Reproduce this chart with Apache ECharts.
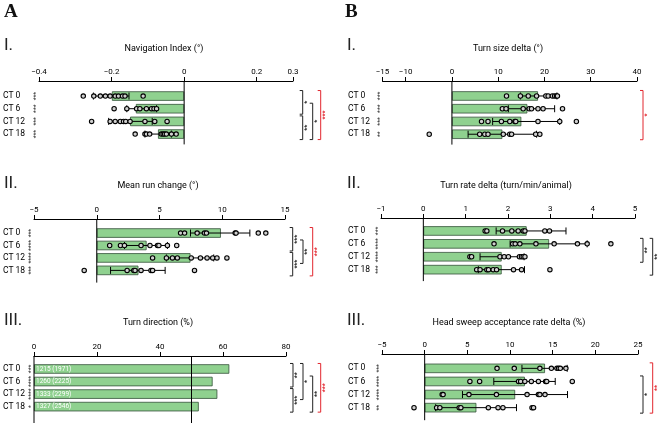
<!DOCTYPE html>
<html><head><meta charset="utf-8">
<script src="https://cdn.jsdelivr.net/npm/echarts@6/dist/echarts.min.js"></script>
<style>html,body{margin:0;padding:0;background:#fff}#c{width:659px;height:423px}</style>
</head><body><div id="c"></div>
<script>
const categories = ['CT 0','CT 6','CT 12','CT 18'];

// ---- A-I Navigation Index (°)
const navTicks = [-0.4,-0.2,0,0.2,0.3];
const navMeans = [-0.199,-0.133,-0.149,-0.072];
const navErr = [[-0.250,-0.152],[-0.158,-0.076],[-0.208,-0.088],[-0.108,-0.035]];
const navPoints = [
  [-0.278,-0.249,-0.231,-0.217,-0.204,-0.190,-0.181,-0.170,-0.163,-0.113],
  [-0.193,-0.158,-0.131,-0.122,-0.104,-0.090,-0.083,-0.076],
  [-0.255,-0.204,-0.190,-0.176,-0.167,-0.161,-0.149,-0.108,-0.081,-0.047],
  [-0.135,-0.108,-0.104,-0.095,-0.063,-0.058,-0.054,-0.049,-0.035,-0.022]
];
const navStars = ['***','***','***','***'];
const navBrackets = [[0,1,'*',0],[2,3,'**',0],[1,3,'*',0],[0,3,'***',1]];

// ---- A-II Mean run change (°)
const runTicks = [-5,0,5,10,15];
const runMeans = [9.89,3.97,7.47,3.32];
const runErr = [[7.47,12.2],[2.21,5.63],[5.55,9.32],[1.10,5.45]];
const runPoints = [
  [6.68,7.0,8.0,8.58,8.74,11.03,11.1,12.87,13.47],
  [1.03,1.89,2.21,3.53,4.24,4.84,4.95,5.63,6.37],
  [4.45,5.55,6.03,6.42,7.53,8.26,8.79,9.24,9.58,10.37],
  [-1.0,2.42,2.95,3.05,3.53,4.32,4.45,7.79]
];
const runStars = ['***','****','****','***'];
const runBrackets = [[0,1,'***',0],[2,3,'***',0],[1,2,'**',0],[0,3,'***',1]];

// ---- A-III Turn direction (%)
const dirTicks = [0,20,40,60,80];
const dirValues = [62.0,56.7,58.2,52.3];
const dirCounts = ['1215 (1971)','1260 (2225)','1333 (2299)','1327 (2546)'];
const dirRefLines = [0,50];
const dirStars = ['***','****','****','*'];
const dirBrackets = [[0,1,'**',0],[2,3,'***',0],[0,2,'*',0],[1,3,'**',0],[0,3,'***',1]];

// ---- B-I Turn size delta (°)
const sizeTicks = [-15,-10,0,10,20,30,40];
const sizeMeans = [18.6,16.3,15.0,10.9];
const sizeErr = [[14.8,22.7],[12.2,22.2],[8.8,23.3],[3.5,18.3]];
const sizePoints = [
  [11.8,14.8,16.5,18.3,20.3,20.8,21.7,22.2,22.6,22.8],
  [10.9,11.7,15.4,16.7,17.2,18.6,19.7,23.9],
  [6.4,7.8,10.7,12.5,13.6,13.8,18.6,23.3,26.9],
  [-4.9,6.0,7.1,7.8,11.1,12.5,12.9,18.1,19.0]
];
const sizeStars = ['***','***','***','**'];
const sizeBrackets = [[0,3,'*',1]];

// ---- B-II Turn rate delta (turn/min/animal)
const rateTicks = [-1,0,1,2,3,4,5];
const rateMeans = [2.44,2.97,1.85,1.85];
const rateErr = [[1.72,3.37],[2.05,3.87],[1.34,2.38],[1.30,2.39]];
const ratePoints = [
  [1.46,1.50,1.87,2.09,2.24,2.36,2.40,2.87,2.98],
  [1.67,2.11,2.17,2.28,2.66,3.09,3.64,3.87,4.43],
  [1.10,1.14,1.81,1.91,2.01,2.27,2.32,2.36,2.40],
  [1.26,1.34,1.50,1.54,1.65,1.73,2.13,2.32,2.99]
];
const rateStars = ['***','****','****','***'];
const rateBrackets = [[1,2,'**',0],[1,3,'**',0]];

// ---- B-III Head sweep acceptance rate delta (%)
const sweepTicks = [-5,0,5,10,15,20,25];
const sweepMeans = [14.1,11.74,10.6,6.06];
const sweepErr = [[11.4,16.7],[8.1,15.3],[4.43,16.74],[1.29,10.76]];
const sweepPoints = [
  [8.48,10.5,13.5,14.85,15.5,15.7,15.9,16.55],
  [5.3,6.44,11.0,11.25,11.74,12.5,13.33,14.17,14.3,17.3],
  [2.05,2.16,5.19,8.41,12.0,13.33,13.5,14.1],
  [-1.25,1.4,1.78,4.05,4.24,7.46,8.6,9.17,12.58,12.76]
];
const sweepStars = ['***','****','****','**'];
const sweepBrackets = [[1,3,'*',0],[0,3,'**',1]];

// ---------------- layout & style ----------------
const FONT = 'Roboto, "Open Sans", sans-serif';
const RED = '#e2262e';
const INK = '#222';
const BAR = '#8fd18f';
const BAR_EDGE = '#35523a';

const panels = [
  {title:'Navigation Index (°)', tx:164, ty:49, num:'I.', nx:4, ny:46,
   left:37, width:256, top:89.7, height:50.7, axisY:81, ext:4, labelX:1,
   min:-0.4, max:0.3, ticks:navTicks, means:navMeans, err:navErr, points:navPoints,
   stars:navStars, brackets:navBrackets, bx:[302.7,302.7,312.7,320.7], lines:[0]},
  {title:'Mean run change (°)', tx:158, ty:186, num:'II.', nx:4, ny:184,
   left:32, width:253, top:226.8, height:49.8, axisY:219, ext:6, labelX:1,
   min:-5, max:15, ticks:runTicks, means:runMeans, err:runErr, points:runPoints,
   stars:runStars, brackets:runBrackets, bx:[292.7,292.7,303,312.7], lines:[0]},
  {title:'Turn direction (%)', tx:158, ty:323, num:'III.', nx:4, ny:321,
   left:32, width:254, top:362.7, height:50.2, axisY:356, ext:12, labelX:1,
   min:0, max:80, ticks:dirTicks, means:dirValues, labels:dirCounts,
   stars:dirStars, brackets:dirBrackets, bx:[293,293,303,312.7,320.7], lines:dirRefLines},
  {title:'Turn size delta (°)', tx:508, ty:49, num:'I.', nx:347, ny:46,
   left:382.5, width:254.5, top:89.6, height:51, axisY:81, ext:4, labelX:348,
   min:-15, max:40, ticks:sizeTicks, means:sizeMeans, err:sizeErr, points:sizePoints,
   stars:sizeStars, brackets:sizeBrackets, bx:[643], lines:[0]},
  {title:'Turn rate delta (turn/min/animal)', tx:506, ty:186, num:'II.', nx:347, ny:184,
   left:381, width:254, top:224.5, height:51.6, axisY:218, ext:5, labelX:348,
   min:-1, max:5, ticks:rateTicks, means:rateMeans, err:rateErr, points:ratePoints,
   stars:rateStars, brackets:rateBrackets, bx:[643,652.7], lines:[0]},
  {title:'Head sweep acceptance rate delta (%)', tx:509, ty:323, num:'III.', nx:347, ny:321,
   left:382, width:256, top:361.8, height:52.4, axisY:354, ext:6, labelX:348,
   min:-5, max:25, ticks:sweepTicks, means:sweepMeans, err:sweepErr, points:sweepPoints,
   stars:sweepStars, brackets:sweepBrackets, bx:[643,652.7], lines:[0]}
];

const fmt = v => (v < 0 ? '\u2212' : '') + Math.abs(v);

const grid = [], xAxis = [], yAxis = [], series = [], graphic = [];

panels.forEach((p, k) => {
  grid.push({left:p.left, top:p.top, width:p.width, height:p.height, containLabel:false});
  xAxis.push({
    gridIndex:k, type:'value', position:'top', min:p.min, max:p.max, offset:p.top - p.axisY,
    axisLine:{show:true, onZero:false, lineStyle:{color:'#000', width:1}},
    axisTick:{show:true, inside:false, length:4, customValues:p.ticks, lineStyle:{color:'#000', width:1}},
    axisLabel:{show:true, customValues:p.ticks, margin:5, fontSize:8, fontFamily:FONT, color:'#000', formatter:fmt},
    splitLine:{show:false}
  });
  yAxis.push({
    gridIndex:k, type:'category', data:categories, inverse:true,
    axisLine:{show:false, onZero:false}, axisTick:{show:false}, splitLine:{show:false},
    axisLabel:{show:true, align:'left', margin:p.left - p.labelX, fontSize:8.5, fontFamily:FONT, color:'#000'}
  });

  // bars
  series.push({
    type:'bar', xAxisIndex:k, yAxisIndex:k, data:p.means, barWidth:9.5, z:2,
    itemStyle:{color:BAR, borderColor:BAR_EDGE, borderWidth:0.8},
    label: p.labels ? {show:true, position:'insideLeft', distance:2, color:'#fff', fontSize:6.5, fontFamily:FONT,
      formatter: q => p.labels[q.dataIndex]} : {show:false},
    silent:true
  });

  // vertical reference lines (zero, 50%)
  series.push({
    type:'custom', xAxisIndex:k, yAxisIndex:k, clip:false, z:5, silent:true,
    data:p.lines.map(v => [v, 0]),
    renderItem:(params, api) => {
      const x = api.coord([api.value(0), 0])[0];
      const cs = params.coordSys;
      return {type:'line', shape:{x1:x, y1:p.axisY, x2:x, y2:cs.y + cs.height + p.ext},
        style:{stroke:'#000', lineWidth:1}};
    }
  });

  // error bars
  if (p.err) {
    series.push({
      type:'custom', xAxisIndex:k, yAxisIndex:k, clip:false, z:3, silent:true,
      data:p.err.map((e, i) => [e[0], e[1], i]),
      encode:{x:[0,1], y:2},
      renderItem:(params, api) => {
        const lo = api.coord([api.value(0), api.value(2)]);
        const hi = api.coord([api.value(1), api.value(2)]);
        const h = 3.5, st = {stroke:'#000', lineWidth:1};
        return {type:'group', children:[
          {type:'line', shape:{x1:lo[0], y1:lo[1], x2:hi[0], y2:hi[1]}, style:st},
          {type:'line', shape:{x1:lo[0], y1:lo[1]-h, x2:lo[0], y2:lo[1]+h}, style:st},
          {type:'line', shape:{x1:hi[0], y1:hi[1]-h, x2:hi[0], y2:hi[1]+h}, style:st}
        ]};
      }
    });
  }

  // individual points
  if (p.points) {
    series.push({
      type:'scatter', xAxisIndex:k, yAxisIndex:k, z:4, silent:true,
      symbol:'circle', symbolSize:4.4,
      itemStyle:{color:'#d0d0d0', borderColor:'#000', borderWidth:1.1, opacity:1},
      data:p.points.flatMap((arr, i) => arr.map(v => [v, i]))
    });
  }

  // significance stars at left of each row
  series.push({
    type:'custom', xAxisIndex:k, yAxisIndex:k, clip:false, z:6, silent:true,
    data:p.stars.map((s, i) => [p.min, i]),
    renderItem:(params, api) => {
      const c = api.coord([api.value(0), api.value(1)]);
      return {type:'text', x:c[0] - 2.5, y:c[1], rotation:Math.PI/2,
        style:{text:p.stars[params.dataIndex], fill:'#333', font:'6.5px ' + FONT,
          textAlign:'center', textVerticalAlign:'middle'}};
    }
  });

  // brackets between conditions
  series.push({
    type:'custom', xAxisIndex:k, yAxisIndex:k, clip:false, z:6, silent:true,
    data:p.brackets.map(b => [0, b[0], b[1]]),
    renderItem:(params, api) => {
      const b = p.brackets[params.dataIndex];
      const x = p.bx[params.dataIndex];
      const y1 = api.coord([0, b[0]])[1] - 5.5;
      const y2 = api.coord([0, b[1]])[1] + 5.5;
      const col = b[3] ? RED : INK;
      return {type:'group', children:[
        {type:'polyline', shape:{points:[[x-3, y1],[x, y1],[x, y2],[x-3, y2]]},
          style:{stroke:col, fill:null, lineWidth:1}},
        {type:'text', x:x + 4.2, y:(y1 + y2) / 2, rotation:Math.PI/2,
          style:{text:b[2], fill:col, font:'bold 6.5px ' + FONT, textAlign:'center', textVerticalAlign:'middle'}}
      ]};
    }
  });

  graphic.push({type:'text', x:p.tx, y:p.ty, silent:true,
    style:{text:p.title, font:'9px ' + FONT, fill:'#000', textAlign:'center', textVerticalAlign:'middle'}});
  graphic.push({type:'text', x:p.nx, y:p.ny, silent:true,
    style:{text:p.num, font:'17px ' + FONT, fill:'#222', textAlign:'left', textVerticalAlign:'middle'}});
});

graphic.push({type:'text', x:4, y:12, silent:true,
  style:{text:'A', font:'bold 19px "Liberation Serif", "DejaVu Serif", serif', fill:'#111', textAlign:'left', textVerticalAlign:'middle'}});
graphic.push({type:'text', x:345, y:12, silent:true,
  style:{text:'B', font:'bold 19px "Liberation Serif", "DejaVu Serif", serif', fill:'#111', textAlign:'left', textVerticalAlign:'middle'}});

const chart = echarts.init(document.getElementById('c'), null, {renderer:'canvas'});
chart.setOption({animation:false, backgroundColor:'#fff', grid, xAxis, yAxis, series, graphic});
</script>
</body></html>
